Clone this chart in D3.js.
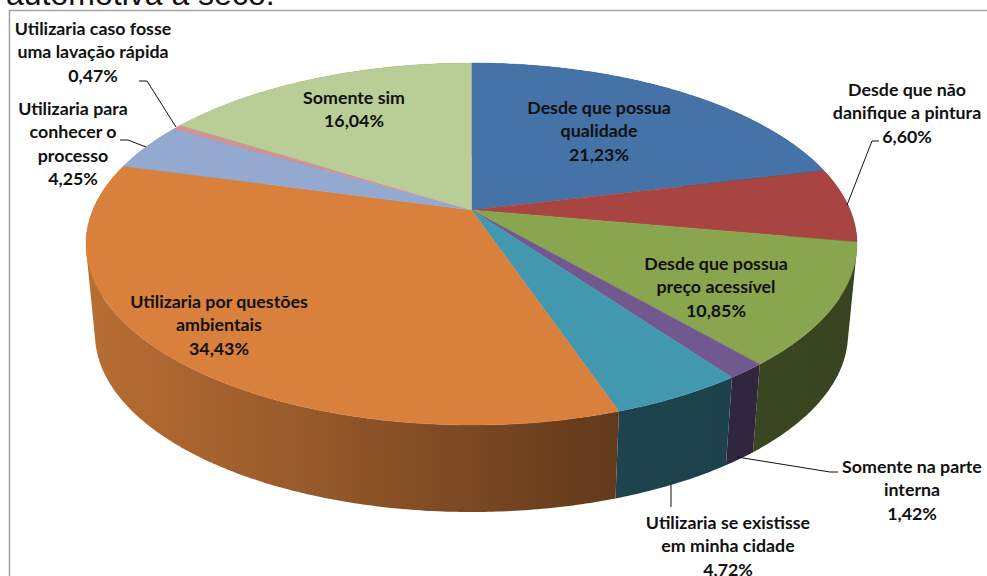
<!DOCTYPE html>
<html>
<head>
<meta charset="utf-8">
<script src="https://cdnjs.cloudflare.com/ajax/libs/d3/7.8.5/d3.min.js"></script>
<style>
  html, body { margin: 0; padding: 0; background: #fff; overflow: hidden; }
  text { font-family: Lato, "Open Sans", sans-serif; font-weight: 700; font-size: 17.8px; fill: #111; }
  .title { font-family: "Liberation Sans", Arial, sans-serif; font-weight: 400; font-size: 32px; }
</style>
</head>
<body>
<div id="chart"></div>
<script>
// values, clockwise from 12 o'clock
const categories = [
  ["Desde que possua", "qualidade"],
  ["Desde que não", "danifique a pintura"],
  ["Desde que possua", "preço acessível"],
  ["Somente na parte", "interna"],
  ["Utilizaria se existisse", "em minha cidade"],
  ["Utilizaria por questões", "ambientais"],
  ["Utilizaria para", "conhecer o", "processo"],
  ["Utilizaria caso fosse", "uma lavação rápida"],
  ["Somente sim"]
];
const values = [21.23, 6.60, 10.85, 1.42, 4.72, 34.43, 4.25, 0.47, 16.04];
const colors = ["#4572A7", "#A84542", "#89A54E", "#71588F", "#4198AF", "#D9813C", "#93A9CF", "#D19392", "#B9CD96"];
const titleText = "automotiva a seco.";

// where each label sits (center x, center y of first line)
const labelPos = [[599, 107], [907, 89], [716, 263], [912, 466], [728, 522], [219, 301], [73, 108], [93, 28], [354, 97]];
const lineStep = 23.3;

// leader lines, by slice index
const leaders = [
  { i: 1, pts: [[847, 205], [872, 141], [879, 141]] },
  { i: 7, pts: [[139, 81], [147, 81], [176, 127]] },
  { i: 6, pts: [[120, 140], [128, 140], [146, 147]] },
  { i: 3, pts: [[737, 457], [830, 472], [838, 472]] },
  { i: 4, pts: [[671, 484], [671, 507]] }
];

const width = 987, height = 576;

const svg = d3.select("#chart").append("svg")
  .attr("width", width)
  .attr("height", height)
  .style("display", "block");

// frame and the title cut off by the top of the crop
svg.append("text").attr("class", "title").attr("x", 6).attr("y", 4.5).text(titleText);
svg.append("path")
  .attr("d", "M9.5," + height + "V10.5H" + width)
  .attr("fill", "none")
  .attr("stroke", "#A3A3A3")
  .attr("stroke-width", 1.6);

// top face and bottom rim ellipses, in unit disk coordinates
const topX = d3.scaleLinear().domain([-1, 1]).range([86, 857]);
const topY = d3.scaleLinear().domain([-1, 1]).range([63, 425]);
const botX = d3.scaleLinear().domain([-1, 1]).range([95, 848]);
const botY = d3.scaleLinear().domain([-1, 1]).range([156, 512]);

// the pie center is seen off the ellipse center because of the perspective
const apexY = -0.188;
function project(a) {
  const u = Math.sin(a), v = -Math.cos(a);
  const w = 1 + apexY * v;
  return [u * Math.sqrt(1 - apexY * apexY) / w, (v + apexY) / w];
}

const pie = d3.pie().sort(null).value(d => d)(values);

function arcAngles(d) {
  const n = Math.max(2, Math.ceil((d.endAngle - d.startAngle) / 0.01));
  return d3.range(n + 1).map(k => d.startAngle + (d.endAngle - d.startAngle) * k / n);
}

const line = d3.line();

// wall shade falls off from left to right
const shade = d3.scaleLinear().domain([86, 300, 610, 857]).range([0.85, 0.7, 0.45, 0.41]);
const defs = svg.append("defs");
colors.forEach(function (c, i) {
  const grad = defs.append("linearGradient")
    .attr("id", "wall" + i)
    .attr("gradientUnits", "userSpaceOnUse")
    .attr("x1", 86).attr("x2", 857).attr("y1", 0).attr("y2", 0);
  d3.range(0, 1.001, 0.05).forEach(function (t) {
    const base = d3.rgb(c), s = shade(86 + t * 771);
    grad.append("stop")
      .attr("offset", t)
      .attr("stop-color", d3.rgb(base.r * s, base.g * s, base.b * s).formatHex());
  });
});

// walls first, the top face covers the back ones
// each wall is a strip of small quads, all wound the same way, so the
// silhouette between the two ellipses gets filled too
svg.append("g").selectAll("path")
  .data(pie)
  .enter()
  .append("path")
  .attr("d", function (d) {
    const as = arcAngles(d).map(project);
    return d3.pairs(as).map(function (pair) {
      const quad = [
        [topX(pair[0][0]), topY(pair[0][1])],
        [topX(pair[1][0]), topY(pair[1][1])],
        [botX(pair[1][0]), botY(pair[1][1])],
        [botX(pair[0][0]), botY(pair[0][1])]
      ];
      if (d3.polygonArea(quad) < 0) quad.reverse();
      return line(quad) + "Z";
    }).join("");
  })
  .attr("fill", (d, i) => "url(#wall" + i + ")");

const apex = [topX(0), topY(apexY)];
svg.append("g").selectAll("path")
  .data(pie)
  .enter()
  .append("path")
  .attr("d", function (d) {
    const rim = arcAngles(d).map(project).map(p => [topX(p[0]), topY(p[1])]);
    return line([apex].concat(rim)) + "Z";
  })
  .attr("fill", (d, i) => colors[i])
  .attr("stroke", (d, i) => colors[i])
  .attr("stroke-width", 0.4);

// leader lines
svg.append("g").selectAll("path")
  .data(leaders)
  .enter()
  .append("path")
  .attr("d", d => line(d.pts))
  .attr("fill", "none")
  .attr("stroke", "#111")
  .attr("stroke-width", 1);

// labels
const fmt = d3.format(".2f");
const labels = svg.append("g").selectAll("text")
  .data(values)
  .enter()
  .append("text")
  .attr("text-anchor", "middle")
  .attr("dominant-baseline", "central");

labels.each(function (v, i) {
  const rows = categories[i].concat([fmt(v).replace(".", ",") + "%"]);
  d3.select(this).selectAll("tspan")
    .data(rows)
    .enter()
    .append("tspan")
    .attr("x", labelPos[i][0])
    .attr("y", (r, k) => labelPos[i][1] + k * lineStep)
    .text(r => r);
});
</script>
</body>
</html>
